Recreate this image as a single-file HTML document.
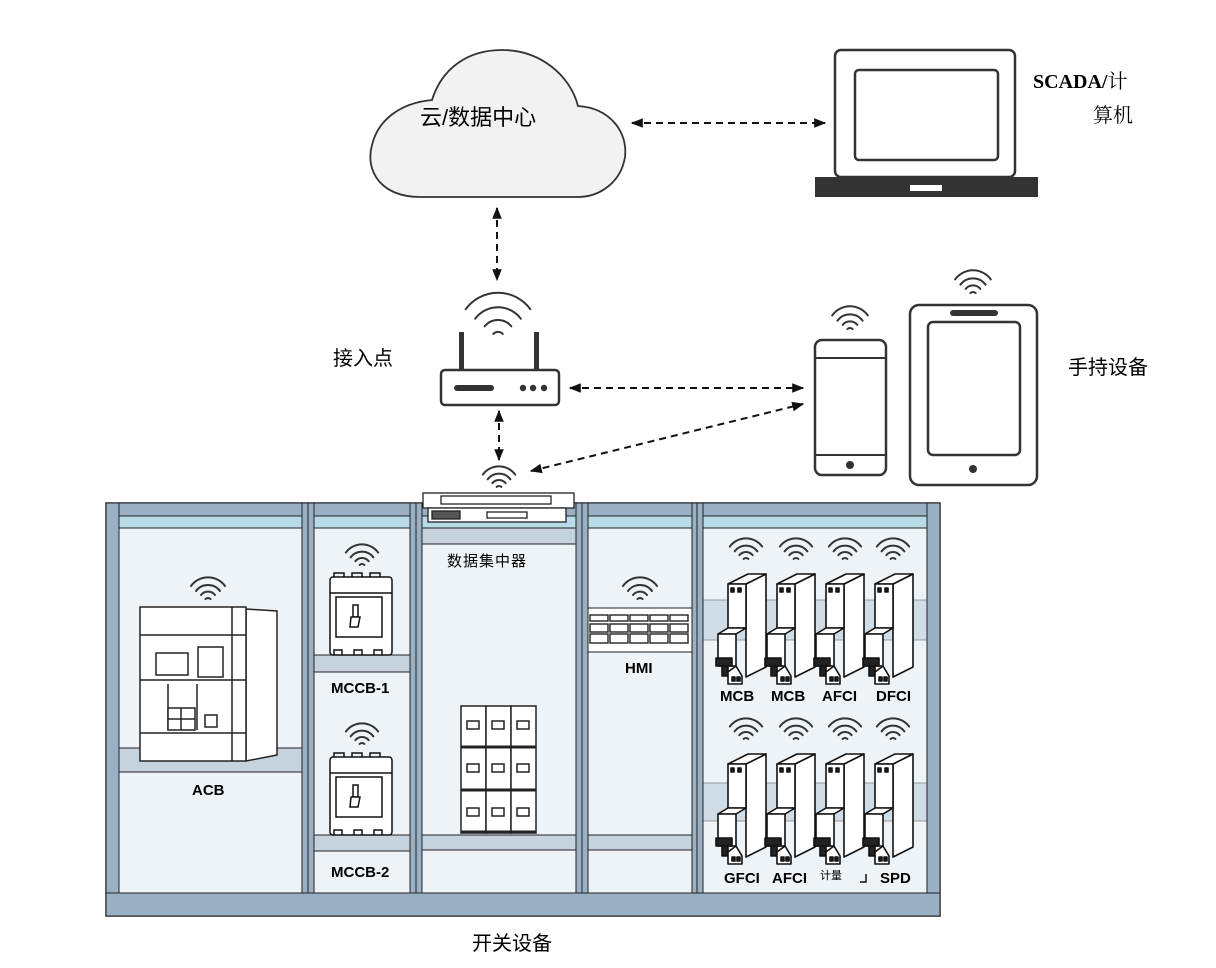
<!DOCTYPE html>
<html><head><meta charset="utf-8"><style>
html,body{margin:0;padding:0;background:#fff;}
svg{display:block;}
text{font-family:"Liberation Sans","Noto Sans CJK SC",sans-serif;}
.b{font-weight:bold;font-family:"Liberation Sans",sans-serif;}
</style></head><body>
<svg width="1216" height="968" viewBox="0 0 1216 968" xmlns="http://www.w3.org/2000/svg">
<defs>
<marker id="ar" viewBox="0 0 10 10" refX="9" refY="5" markerWidth="6" markerHeight="6" orient="auto-start-reverse"><path d="M0,1 L10,5 L0,9 Z" fill="#111"/></marker>
<g id="wf" fill="none" stroke="#333" stroke-width="2" stroke-linecap="round">
<path d="M-17,-12 A21,21 0 0 1 17,-12" vector-effect="non-scaling-stroke"/>
<path d="M-12,-7 A15,15 0 0 1 12,-7" vector-effect="non-scaling-stroke"/>
<path d="M-7,-3 A9,9 0 0 1 7,-3" vector-effect="non-scaling-stroke"/>
<path d="M-2.5,1 A3.5,3.5 0 0 1 2.5,1" vector-effect="non-scaling-stroke"/>
</g>
<g id="brk" stroke="#111" stroke-width="1.6" fill="#fff" stroke-linejoin="round">
<polygon points="32,12 52,2 52,95 32,105"/>
<polygon points="14,12 34,2 52,2 32,12"/>
<rect x="14" y="12" width="18" height="44"/>
<polygon points="4,62 14,56 32,56 22,62"/>
<rect x="4" y="62" width="18" height="32"/>
<rect x="2" y="86" width="16" height="8" fill="#222"/>
<rect x="8" y="94" width="6" height="10" fill="#222"/>
<polygon points="14,100 22,94 28,104 28,112 14,112" />
<rect x="17" y="16" width="3" height="4" fill="#222"/><rect x="24" y="16" width="3" height="4" fill="#222"/>
<rect x="18" y="105" width="3" height="4" fill="#222"/><rect x="23" y="105" width="3" height="4" fill="#222"/>
</g>
<g id="mccb" stroke="#111" stroke-width="1.5" fill="#fff">
<rect x="0" y="4" width="62" height="78" rx="3"/>
<path d="M4,4 v-4 h10 v4 M22,4 v-4 h10 v4 M40,4 v-4 h10 v4 M4,82 v-5 h8 v5 M24,82 v-5 h8 v5 M44,82 v-5 h8 v5" fill="none"/>
<rect x="6" y="24" width="46" height="40"/>
<rect x="23" y="32" width="5" height="12" fill="#fff"/>
<polygon points="21,44 30,44 28,54 20,54" />
<line x1="0" y1="20" x2="62" y2="20"/>
</g>
</defs>

<!-- cloud -->
<path d="M420,197 C380,197 365,170 372,145 C378,120 400,103 432,100 C442,68 468,50 502,50 C540,50 570,75 578,106 C610,108 628,132 625,157 C621,182 600,197 578,197 Z" fill="#f2f2f2" stroke="#333" stroke-width="1.8"/>
<text x="420" y="125" font-size="22">云/数据中心</text>

<!-- laptop -->
<rect x="835" y="50" width="180" height="127" rx="6" fill="#fff" stroke="#333" stroke-width="2.5"/>
<rect x="855" y="70" width="143" height="90" rx="4" fill="#fff" stroke="#333" stroke-width="2.5"/>
<rect x="815" y="177" width="223" height="20" fill="#333"/>
<rect x="910" y="185" width="32" height="6" fill="#fff"/>
<text x="1033" y="88" font-size="20" style="font-family:'Liberation Serif','Noto Serif CJK SC',serif;font-weight:bold">SCADA/<tspan style="font-weight:normal">计</tspan></text>
<text x="1093" y="122" font-size="20" style="font-family:'Noto Serif CJK SC',serif">算机</text>

<!-- arrows -->
<g stroke="#111" stroke-width="2" stroke-dasharray="7,5" fill="none">
<line x1="632" y1="123" x2="825" y2="123" marker-start="url(#ar)" marker-end="url(#ar)"/>
<line x1="497" y1="208" x2="497" y2="280" marker-start="url(#ar)" marker-end="url(#ar)"/>
<line x1="570" y1="388" x2="803" y2="388" marker-start="url(#ar)" marker-end="url(#ar)"/>
<line x1="499" y1="411" x2="499" y2="460" marker-start="url(#ar)" marker-end="url(#ar)"/>
<line x1="531" y1="471" x2="803" y2="404" marker-start="url(#ar)" marker-end="url(#ar)"/>
</g>

<!-- router -->
<use href="#wf" transform="translate(498,332) scale(1.9)"/>
<rect x="459" y="332" width="5" height="40" fill="#333"/>
<rect x="534" y="332" width="5" height="40" fill="#333"/>
<rect x="441" y="370" width="118" height="35" rx="4" fill="#fff" stroke="#333" stroke-width="2.5"/>
<rect x="454" y="385" width="40" height="6" rx="3" fill="#333"/>
<circle cx="523" cy="388" r="3.2" fill="#333"/><circle cx="533" cy="388" r="3.2" fill="#333"/><circle cx="544" cy="388" r="3.2" fill="#333"/>
<text x="333" y="365" font-size="20">接入点</text>
<use href="#wf" transform="translate(499,486) scale(0.95)"/>

<!-- phone -->
<use href="#wf" transform="translate(850,328) scale(1.05)"/>
<rect x="815" y="340" width="71" height="135" rx="7" fill="#fff" stroke="#333" stroke-width="2.5"/>
<line x1="815" y1="358" x2="886" y2="358" stroke="#333" stroke-width="2"/>
<line x1="815" y1="455" x2="886" y2="455" stroke="#333" stroke-width="2"/>
<circle cx="850" cy="465" r="4" fill="#333"/>
<!-- tablet -->
<use href="#wf" transform="translate(973,292) scale(1.05)"/>
<rect x="910" y="305" width="127" height="180" rx="9" fill="#fff" stroke="#333" stroke-width="2.5"/>
<rect x="928" y="322" width="92" height="133" rx="5" fill="#fff" stroke="#333" stroke-width="2.5"/>
<rect x="950" y="310" width="48" height="6" rx="3" fill="#333"/>
<circle cx="973" cy="469" r="4" fill="#333"/>
<text x="1068" y="374" font-size="20">手持设备</text>

<!-- cabinet -->
<rect x="106" y="503" width="834" height="413" fill="#eef3f8" stroke="#222" stroke-width="1.5"/>
<rect x="106" y="503" width="834" height="13" fill="#9ab0c4" stroke="#222" stroke-width="1"/>
<rect x="106" y="516" width="834" height="12" fill="#b7dce8" stroke="#222" stroke-width="1"/>
<g fill="#c5d3de" stroke="#222" stroke-width="1">
<rect x="119" y="748" width="183" height="24"/>
<rect x="314" y="655" width="96" height="17"/>
<rect x="314" y="835" width="96" height="16"/>
<rect x="422" y="528" width="154" height="16"/>
<rect x="422" y="835" width="154" height="15"/>
<rect x="588" y="835" width="104" height="15"/>
<rect x="703" y="600" width="224" height="40" fill="#d0dce6" stroke="#999"/>
<rect x="703" y="783" width="224" height="38" fill="#d0dce6" stroke="#999"/>
</g>
<g fill="#9ab0c4" stroke="#222" stroke-width="1">
<rect x="106" y="503" width="13" height="392"/>
<rect x="302" y="503" width="6" height="392"/><rect x="308" y="503" width="6" height="392"/>
<rect x="410" y="503" width="6" height="392"/><rect x="416" y="503" width="6" height="392"/>
<rect x="576" y="503" width="6" height="392"/><rect x="582" y="503" width="6" height="392"/>
<rect x="692" y="503" width="5" height="392"/><rect x="697" y="503" width="6" height="392"/>
<rect x="927" y="503" width="13" height="392"/>
<rect x="106" y="893" width="834" height="23"/>
</g>

<!-- rack unit -->
<g stroke="#222" stroke-width="1.3" fill="#fff">
<rect x="423" y="493" width="151" height="15"/>
<rect x="441" y="496" width="110" height="8"/>
<rect x="428" y="508" width="138" height="14"/>
<rect x="432" y="511" width="28" height="8" fill="#555"/>
<rect x="487" y="512" width="40" height="6"/>
</g>
<text x="447" y="566" font-size="15" letter-spacing="1">数据集中器</text>

<!-- ACB -->
<use href="#wf" transform="translate(208,598) scale(1.0)"/>
<g stroke="#222" stroke-width="1.5" fill="#fff">
<polygon points="246,609 277,611 277,755 246,761"/>
<rect x="140" y="607" width="106" height="154"/>
<line x1="140" y1="635" x2="246" y2="635"/>
<line x1="140" y1="680" x2="246" y2="680"/>
<line x1="140" y1="733" x2="246" y2="733"/>
<line x1="232" y1="607" x2="232" y2="761"/>
<rect x="156" y="653" width="32" height="22"/>
<rect x="198" y="647" width="25" height="30"/>
<line x1="168" y1="684" x2="168" y2="730"/>
<line x1="197" y1="684" x2="197" y2="730"/>
<rect x="168" y="708" width="27" height="22"/>
<line x1="181" y1="708" x2="181" y2="730"/><line x1="168" y1="719" x2="195" y2="719"/>
<rect x="205" y="715" width="12" height="12"/>
</g>
<text x="192" y="795" font-size="15" class="b">ACB</text>

<!-- MCCB -->
<use href="#wf" transform="translate(362,564) scale(0.95)"/>
<use href="#mccb" transform="translate(330,573)"/>
<text x="331" y="693" font-size="15" class="b">MCCB-1</text>
<use href="#wf" transform="translate(362,743) scale(0.95)"/>
<use href="#mccb" transform="translate(330,753)"/>
<text x="331" y="877" font-size="15" class="b">MCCB-2</text>

<!-- concentrator modules -->
<g stroke="#222" stroke-width="1.5" fill="#fff">
<rect x="461" y="706" width="25" height="127"/><rect x="486" y="706" width="25" height="127"/><rect x="511" y="706" width="25" height="127"/>
<line x1="461" y1="747" x2="536" y2="747" stroke-width="3"/>
<line x1="461" y1="790" x2="536" y2="790" stroke-width="3"/>
<line x1="461" y1="832" x2="536" y2="832" stroke-width="3"/>
<rect x="467" y="721" width="12" height="8"/><rect x="492" y="721" width="12" height="8"/><rect x="517" y="721" width="12" height="8"/>
<rect x="467" y="764" width="12" height="8"/><rect x="492" y="764" width="12" height="8"/><rect x="517" y="764" width="12" height="8"/>
<rect x="467" y="808" width="12" height="8"/><rect x="492" y="808" width="12" height="8"/><rect x="517" y="808" width="12" height="8"/>
</g>

<!-- HMI -->
<use href="#wf" transform="translate(640,598) scale(1.0)"/>
<rect x="588" y="608" width="104" height="44" fill="#fff" stroke="#222" stroke-width="1"/>
<g stroke="#222" stroke-width="1.4" fill="#fff">
<rect x="590" y="615" width="18" height="6"/><rect x="610" y="615" width="18" height="6"/><rect x="630" y="615" width="18" height="6"/><rect x="650" y="615" width="18" height="6"/><rect x="670" y="615" width="18" height="6"/>
<rect x="590" y="624" width="18" height="8"/><rect x="610" y="624" width="18" height="8"/><rect x="630" y="624" width="18" height="8"/><rect x="650" y="624" width="18" height="8"/><rect x="670" y="624" width="18" height="8"/>
<rect x="590" y="634" width="18" height="9"/><rect x="610" y="634" width="18" height="9"/><rect x="630" y="634" width="18" height="9"/><rect x="650" y="634" width="18" height="9"/><rect x="670" y="634" width="18" height="9"/>
</g>
<text x="625" y="673" font-size="15" class="b">HMI</text>

<!-- breakers -->
<use href="#wf" transform="translate(746,558) scale(0.95)"/>
<use href="#wf" transform="translate(796,558) scale(0.95)"/>
<use href="#wf" transform="translate(845,558) scale(0.95)"/>
<use href="#wf" transform="translate(893,558) scale(0.95)"/>
<use href="#brk" transform="translate(714,572)"/>
<use href="#brk" transform="translate(763,572)"/>
<use href="#brk" transform="translate(812,572)"/>
<use href="#brk" transform="translate(861,572)"/>
<g font-size="15" class="b">
<text x="720" y="701">MCB</text><text x="771" y="701">MCB</text><text x="822" y="701">AFCI</text><text x="876" y="701">DFCI</text>
</g>
<use href="#wf" transform="translate(746,738) scale(0.95)"/>
<use href="#wf" transform="translate(796,738) scale(0.95)"/>
<use href="#wf" transform="translate(845,738) scale(0.95)"/>
<use href="#wf" transform="translate(893,738) scale(0.95)"/>
<use href="#brk" transform="translate(714,752)"/>
<use href="#brk" transform="translate(763,752)"/>
<use href="#brk" transform="translate(812,752)"/>
<use href="#brk" transform="translate(861,752)"/>
<g font-size="15" class="b">
<text x="724" y="883">GFCI</text><text x="772" y="883">AFCI</text><text x="880" y="883">SPD</text>
</g>
<text x="820" y="879" font-size="11">计量</text>
<path d="M866,874 v8 h-6" fill="none" stroke="#111" stroke-width="1.5"/>

<text x="472" y="950" font-size="20">开关设备</text>
</svg>
</body></html>
